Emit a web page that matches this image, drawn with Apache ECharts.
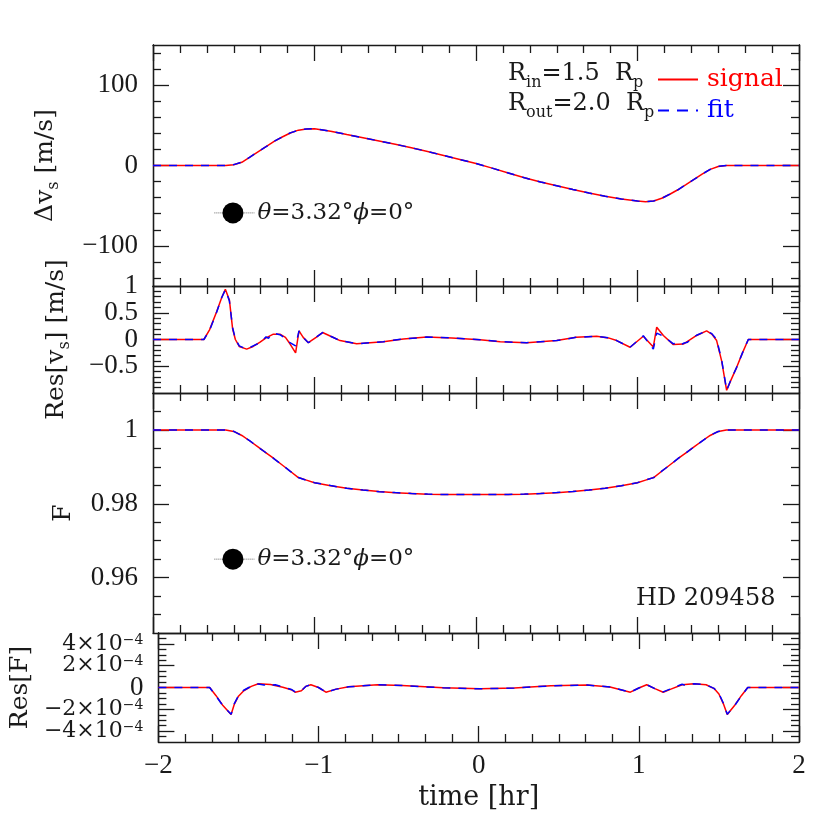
<!DOCTYPE html>
<html><head><meta charset="utf-8">
<script src="https://cdn.jsdelivr.net/npm/echarts@6.0.0/dist/echarts.min.js"></script>
<style>html,body{margin:0;padding:0;background:#fff}#c{width:830px;height:830px}</style>
</head><body><div id="c"></div>
<script>
// ---------- data (time in hr) ----------
const tV = [-2, -1.55, -1.5, -1.45, -1.4, -1.35, -1.3, -1.25, -1.2, -1.15, -1.1, -1.05, -1.0, -0.9, -0.8, -0.7, -0.6, -0.5, -0.4, -0.3, -0.2, -0.1, 0, 0.1, 0.2, 0.3, 0.4, 0.5, 0.6, 0.7, 0.8, 0.9, 1.0, 1.05, 1.1, 1.15, 1.2, 1.25, 1.3, 1.35, 1.4, 1.45, 1.5, 1.55, 2];
const vsSignal = [0, 0, 1, 4, 10.5, 17, 23.5, 30, 35.5, 40.5, 44, 45.5, 45.7, 42.7, 38.5, 34.5, 30.5, 26.5, 22, 17.5, 12.5, 7.5, 2.5, -3.3, -9.3, -15.3, -20.5, -25.2, -29.9, -34.3, -38.3, -41.6, -44.3, -45, -44.2, -40.8, -35.8, -30.2, -23.8, -17.3, -10.8, -4.8, -1.2, 0, 0];
const vsFit = [0, 0, 1.1, 4.1, 10.4, 17.1, 23.4, 30.1, 35.4, 40.6, 43.9, 45.5, 45.7, 42.7, 38.5, 34.5, 30.5, 26.5, 22, 17.5, 12.5, 7.5, 2.5, -3.3, -9.3, -15.3, -20.5, -25.2, -29.9, -34.3, -38.3, -41.6, -44.3, -45, -44.1, -40.9, -35.7, -30.3, -23.7, -17.4, -10.7, -4.9, -1.1, 0, 0];

const tRv = [-2, -1.685, -1.65, -1.606, -1.575, -1.552, -1.527, -1.507, -1.49, -1.466, -1.42, -1.38, -1.337, -1.3, -1.255, -1.214, -1.18, -1.152, -1.117, -1.096, -1.07, -1.038, -0.99, -0.95, -0.9, -0.842, -0.739, -0.574, -0.45, -0.305, -0.15, 0.025, 0.15, 0.314, 0.5, 0.62, 0.747, 0.82, 0.871, 0.954, 1.036, 1.098, 1.119, 1.16, 1.222, 1.284, 1.366, 1.428, 1.46, 1.49, 1.521, 1.552, 1.58, 1.614, 1.65, 1.686, 2];
const rvSignal = [0, 0, 0.18, 0.52, 0.78, 0.94, 0.74, 0.2, 0.0, -0.13, -0.18, -0.13, -0.05, 0.03, 0.10, 0.10, 0.04, -0.08, -0.25, 0.16, 0.04, -0.06, 0.04, 0.13, 0.06, -0.02, -0.08, -0.04, 0.01, 0.045, 0.03, -0.005, -0.04, -0.06, -0.02, 0.04, 0.06, 0.03, -0.02, -0.145, 0.06, -0.14, 0.23, 0.075, -0.095, -0.085, 0.075, 0.16, 0.1, -0.02, -0.40, -0.95, -0.75, -0.52, -0.25, 0, 0];
const tRvFit = [-2, -1.685, -1.65, -1.606, -1.575, -1.552, -1.527, -1.507, -1.49, -1.466, -1.42, -1.38, -1.337, -1.3, -1.285, -1.27, -1.255, -1.24, -1.214, -1.18, -1.152, -1.117, -1.096, -1.07, -1.038, -0.99, -0.95, -0.9, -0.842, -0.739, -0.574, -0.45, -0.305, -0.15, 0.025, 0.15, 0.314, 0.5, 0.62, 0.747, 0.82, 0.871, 0.954, 1.036, 1.098, 1.119, 1.16, 1.222, 1.25, 1.27, 1.284, 1.31, 1.366, 1.428, 1.46, 1.49, 1.521, 1.552, 1.58, 1.614, 1.65, 1.686, 2];
const rvFit = [0, 0, 0.17, 0.51, 0.78, 0.93, 0.72, 0.22, 0.01, -0.12, -0.18, -0.12, -0.06, 0.05, 0.02, 0.09, 0.08, 0.11, 0.09, 0.02, -0.06, -0.12, 0.16, 0.04, -0.06, 0.04, 0.13, 0.06, -0.02, -0.08, -0.04, 0.01, 0.045, 0.03, -0.005, -0.04, -0.06, -0.02, 0.04, 0.06, 0.03, -0.02, -0.145, 0.07, -0.18, 0.12, 0.06, -0.08, -0.06, -0.1, -0.07, -0.05, 0.08, 0.16, 0.11, 0.0, -0.38, -0.95, -0.74, -0.52, -0.25, 0, 0];

const fSignal = [1, 1, 0.9996, 0.9985, 0.9970, 0.9954, 0.9938, 0.9922, 0.9905, 0.9888, 0.9871, 0.9864, 0.9857, 0.9849, 0.9842, 0.9837, 0.9833, 0.9830, 0.9828, 0.9826, 0.9825, 0.9825, 0.9825, 0.9825, 0.9825, 0.9826, 0.9828, 0.9830, 0.9833, 0.9837, 0.9842, 0.9849, 0.9857, 0.9864, 0.9871, 0.9888, 0.9905, 0.9922, 0.9938, 0.9954, 0.9970, 0.9985, 0.9996, 1, 1];
const fFit = [1, 1, 0.99963, 0.99847, 0.99702, 0.99538, 0.99382, 0.99218, 0.99052, 0.98878, 0.98712, 0.98638, 0.98572, 0.98492, 0.98418, 0.98372, 0.98328, 0.98302, 0.98278, 0.98262, 0.98252, 0.98248, 0.98252, 0.98248, 0.98252, 0.98262, 0.98278, 0.98302, 0.98332, 0.98372, 0.98422, 0.98488, 0.98572, 0.98642, 0.98708, 0.98882, 0.99048, 0.99222, 0.99378, 0.99542, 0.99698, 0.99853, 0.99958, 1, 1];

const tRf = [-2, -1.68, -1.64, -1.6, -1.546, -1.525, -1.5, -1.467, -1.42, -1.376, -1.30, -1.223, -1.17, -1.146, -1.107, -1.08, -1.048, -1.0, -0.954, -0.89, -0.812, -0.632, -0.478, -0.222, 0.01, 0.222, 0.45, 0.677, 0.82, 0.947, 1.0, 1.049, 1.1, 1.152, 1.2, 1.27, 1.344, 1.42, 1.47, 1.5, 1.528, 1.552, 1.6, 1.64, 1.68, 2];
const rfSignal = [0, 0, -0.75e-4, -1.6e-4, -2.48e-4, -1.5e-4, -0.8e-4, -0.3e-4, 0.1e-4, 0.34e-4, 0.28e-4, 0.03e-4, -0.2e-4, -0.43e-4, -0.3e-4, 0.1e-4, 0.25e-4, 0.0, -0.43e-4, -0.15e-4, 0.06e-4, 0.25e-4, 0.18e-4, -0.03e-4, -0.12e-4, -0.05e-4, 0.15e-4, 0.22e-4, 0.05e-4, -0.43e-4, -0.05e-4, 0.25e-4, -0.1e-4, -0.43e-4, -0.15e-4, 0.25e-4, 0.34e-4, 0.25e-4, -0.1e-4, -0.6e-4, -1.5e-4, -2.48e-4, -1.6e-4, -0.75e-4, 0, 0];
const tRfFit = [-2, -1.68, -1.64, -1.6, -1.546, -1.525, -1.5, -1.467, -1.42, -1.376, -1.34, -1.32, -1.30, -1.27, -1.223, -1.17, -1.146, -1.107, -1.08, -1.048, -1.0, -0.954, -0.89, -0.812, -0.632, -0.478, -0.222, 0.01, 0.222, 0.45, 0.677, 0.82, 0.947, 1.0, 1.049, 1.1, 1.152, 1.2, 1.25, 1.27, 1.29, 1.344, 1.42, 1.47, 1.5, 1.528, 1.552, 1.6, 1.64, 1.68, 2];
const rfFit = [0, 0, -0.78e-4, -1.62e-4, -2.45e-4, -1.45e-4, -0.75e-4, -0.25e-4, 0.12e-4, 0.33e-4, 0.22e-4, 0.32e-4, 0.2e-4, 0.26e-4, 0.05e-4, -0.18e-4, -0.4e-4, -0.3e-4, 0.1e-4, 0.25e-4, 0.0, -0.43e-4, -0.15e-4, 0.06e-4, 0.25e-4, 0.18e-4, -0.03e-4, -0.12e-4, -0.05e-4, 0.15e-4, 0.22e-4, 0.05e-4, -0.43e-4, -0.05e-4, 0.25e-4, -0.1e-4, -0.4e-4, -0.12e-4, 0.18e-4, 0.3e-4, 0.2e-4, 0.34e-4, 0.25e-4, -0.08e-4, -0.55e-4, -1.45e-4, -2.45e-4, -1.62e-4, -0.78e-4, 0, 0];

// annotation marker (planet symbol) in data units
const noteT = -1.505;
const noteLineT = [-1.62, -1.37];
const noteVs = -59;
const noteF = 0.965;
const noteText = '{i|θ}{t|=3.32°}{i|ϕ}{t|=0°}';

// tick values / labels (label sets split so that no two labels of one axis touch)
const vsLabels = [[-100, 0, 100]];
const vsMajor = [-100, 0, 100];
const vsMinor = [-140, -120, -80, -60, -40, -20, 20, 40, 60, 80, 120, 140];
const rvLabels = [[-0.5, 0.5], [0, 1]];
const rvMajor = [-0.5, 0, 0.5];
const rvMinor = [-0.9, -0.8, -0.7, -0.6, -0.4, -0.3, -0.2, -0.1, 0.1, 0.2, 0.3, 0.4, 0.6, 0.7, 0.8, 0.9];
const fLabels = [[0.96, 0.98, 1]];
const fMajor = [0.96, 0.98, 1];
const fMinor = [0.95, 0.955, 0.965, 0.97, 0.975, 0.985, 0.99, 0.995, 1.005];
const rfLabels = [[-4e-4, 4e-4], [-2e-4, 2e-4], [0]];
const rfMajor = [-4e-4, -2e-4, 0, 2e-4, 4e-4];
const rfMinor = [-4.5e-4, -3.5e-4, -3e-4, -2.5e-4, -1.5e-4, -1e-4, -0.5e-4, 0.5e-4, 1e-4, 1.5e-4, 2.5e-4, 3e-4, 3.5e-4, 4.5e-4];

// ---------- styling ----------
const AX = '#1a1a1a';
const TC = '#1a1a1a';
const NUM_FONT = 'Liberation Serif';
const TXT_FONT = 'DejaVu Serif';
const RED = '#ff0000', BLUE = '#0000ff';

function minus(v) {
  const s = String(+Number(v).toPrecision(6));
  return s.replace('-', '\u2212');
}
function sciFmt(v) {
  const n = Math.round(v / 1e-4);
  if (n === 0) return '0';
  return (n < 0 ? '\u2212' : '') + Math.abs(n) + '\u00d710{s|\u22124}';
}
const nameRich = {
  t: {fontFamily: TXT_FONT, fontSize: 25, lineHeight: 34, color: TC},
  s: {fontFamily: TXT_FONT, fontSize: 16, lineHeight: 14, verticalAlign: 'bottom', color: TC}
};

const grids = [
  {left: 153, right: 31, top: 45, height: 241},
  {left: 153, right: 31, top: 286, height: 107},
  {left: 153, right: 31, top: 393, height: 240},
  {left: 153, right: 31, top: 633, height: 109}
];

const lineSty = {show: true, onZero: false, lineStyle: {color: AX, width: 1.3}};
const tickSty = {color: AX, width: 1.3};

function xAxes(g, showLabel) {
  const base = {
    type: 'value', gridIndex: g, min: -2, max: 2, interval: 1,
    axisLine: lineSty, splitLine: {show: false},
    axisTick: {show: true, inside: true, length: 16, lineStyle: tickSty},
    minorTick: {show: true, splitNumber: 6, length: 8, lineStyle: tickSty},
    minorSplitLine: {show: false}
  };
  return [
    Object.assign({}, base, {position: 'bottom',
      axisLabel: {show: showLabel, margin: 10, fontFamily: NUM_FONT, fontSize: 27, color: TC, formatter: minus},
      name: showLabel ? 'time [hr]' : '', nameLocation: 'middle', nameGap: 42,
      nameTextStyle: {fontFamily: TXT_FONT, fontSize: 27, color: TC}}),
    Object.assign({}, base, {position: 'top', axisLabel: {show: false}})
  ];
}

// returns the y axes of one panel; the first one carries the series
function yAxes(g, p) {
  const base = {type: 'value', gridIndex: g, min: p.min, max: p.max, splitLine: {show: false}, axisLine: lineSty};
  const major = {show: true, inside: true, length: 16, customValues: p.majors, lineStyle: tickSty};
  const minor = {show: true, inside: true, length: 8, customValues: p.minors, lineStyle: tickSty};
  const lab = (vals, k) => {
    const big = p.labelFont && !(vals.length === 1 && vals[0] === 0);
    return {show: true, customValues: vals, margin: 15,
      fontFamily: big ? p.labelFont : NUM_FONT, fontSize: big ? p.labelSize : 27,
      color: TC, hideOverlap: false, showMinLabel: true, showMaxLabel: true, formatter: p.fmt, rich: p.rich};
  };
  const axes = [
    Object.assign({}, base, {position: 'left', axisTick: major, axisLabel: lab(p.labels[0], 0),
      name: p.name, nameLocation: 'middle', nameGap: p.gap, nameRotate: 90,
      nameTextStyle: {fontFamily: TXT_FONT, fontSize: 25, color: TC, rich: nameRich}}),
    Object.assign({}, base, {position: 'left', axisTick: minor, axisLabel: {show: false}}),
    Object.assign({}, base, {position: 'right', axisTick: major, axisLabel: {show: false}}),
    Object.assign({}, base, {position: 'right', axisTick: minor, axisLabel: {show: false}})
  ];
  for (let k = 1; k < p.labels.length; k++) {
    axes.push(Object.assign({}, base, {position: 'left', axisLine: {show: false, onZero: false},
      axisTick: {show: false}, axisLabel: lab(p.labels[k], k)}));
  }
  return axes;
}

const supRich = {
  s: {fontFamily: TXT_FONT, fontSize: 14, lineHeight: 8, verticalAlign: 'top', color: TC}
};

const xAxis = [].concat(xAxes(0, false), xAxes(1, false), xAxes(2, false), xAxes(3, true));
const panelAxes = [
  yAxes(0, {min: -150, max: 150, majors: vsMajor, minors: vsMinor, labels: vsLabels, fmt: minus,
    name: '{t|\u0394v}{s|s}{t| [m/s]}', gap: 91}),
  yAxes(1, {min: -1, max: 1, majors: rvMajor, minors: rvMinor, labels: rvLabels, fmt: minus,
    name: '{t|Res[v}{s|s}{t|] [m/s]}', gap: 80}),
  yAxes(2, {min: 0.945, max: 1.01, majors: fMajor, minors: fMinor, labels: fLabels, fmt: minus,
    name: '{t|F}', gap: 73}),
  yAxes(3, {min: -5e-4, max: 5e-4, majors: rfMajor, minors: rfMinor, labels: rfLabels, fmt: sciFmt, rich: supRich,
    labelFont: TXT_FONT, labelSize: 22, name: '{t|Res[F]}', gap: 118})
];
const yMain = [];
let yAxis = [];
panelAxes.forEach(a => { yMain.push(yAxis.length); yAxis = yAxis.concat(a); });

function pairs(t, v) { return t.map((x, i) => [x, v[i]]); }
function sig(g, t, v) {
  return {type: 'line', name: 'signal', xAxisIndex: 2 * g, yAxisIndex: yMain[g], data: pairs(t, v),
    symbol: 'none', showSymbol: false, lineStyle: {color: RED, width: 1.5, type: 'solid'}, itemStyle: {color: RED}, z: 3};
}
function fit(g, t, v) {
  return {type: 'line', name: 'fit', xAxisIndex: 2 * g, yAxisIndex: yMain[g], data: pairs(t, v),
    symbol: 'none', showSymbol: false, lineStyle: {color: BLUE, width: 1.5, type: [8, 8]}, itemStyle: {color: BLUE}, z: 4};
}
function note(g, yv) {
  return [
    {type: 'line', xAxisIndex: 2 * g, yAxisIndex: yMain[g], data: noteLineT.map(t => [t, yv]), symbol: 'none',
      lineStyle: {color: '#666', width: 1, type: 'dotted'}, z: 5, silent: true},
    {type: 'scatter', xAxisIndex: 2 * g, yAxisIndex: yMain[g], data: [[noteT, yv]], symbol: 'circle', symbolSize: 21,
      itemStyle: {color: '#000', opacity: 1}, z: 6, silent: true,
      label: {show: true, position: 'right', distance: 14, formatter: noteText, opacity: 1,
        rich: {i: {fontFamily: TXT_FONT, fontStyle: 'italic', fontSize: 23, color: TC},
               t: {fontFamily: TXT_FONT, fontSize: 23, color: TC}}}}
  ];
}

const series = [
  sig(0, tV, vsSignal), fit(0, tV, vsFit),
  sig(1, tRv, rvSignal), fit(1, tRvFit, rvFit),
  sig(2, tV, fSignal), fit(2, tV, fFit),
  sig(3, tRf, rfSignal), fit(3, tRfFit, rfFit)
].concat(note(0, noteVs), note(2, noteF));

const subRich = {
  t: {fontFamily: TXT_FONT, fontSize: 24, lineHeight: 34, fill: TC},
  s: {fontFamily: TXT_FONT, fontSize: 16, lineHeight: 14, verticalAlign: 'bottom', fill: TC}
};

const chart = echarts.init(document.getElementById('c'), null, {renderer: 'canvas'});
chart.setOption({
  backgroundColor: '#fff',
  animation: false,
  textStyle: {fontFamily: TXT_FONT},
  grid: grids,
  xAxis: xAxis,
  yAxis: yAxis,
  legend: {
    orient: 'vertical', left: 652, top: 62, itemWidth: 40, itemHeight: 14, itemGap: 6, selectedMode: false,
    itemStyle: {opacity: 0},
    textStyle: {fontFamily: TXT_FONT, fontSize: 25, padding: [0, 0, 0, 4]},
    data: [{name: 'signal', textStyle: {color: RED}},
           {name: 'fit', textStyle: {color: BLUE}, lineStyle: {type: [11, 8]}}]
  },
  graphic: [
    {type: 'text', left: 508, top: 62, style: {text: '{t|R}{s|in}{t|=1.5  R}{s|p}', rich: subRich}},
    {type: 'text', left: 508, top: 92, style: {text: '{t|R}{s|out}{t|=2.0  R}{s|p}', rich: subRich}},
    {type: 'text', left: 636, top: 587, style: {text: 'HD 209458', fontFamily: TXT_FONT, fontSize: 24, fill: TC}}
  ],
  series: series
});
</script>
</body></html>
